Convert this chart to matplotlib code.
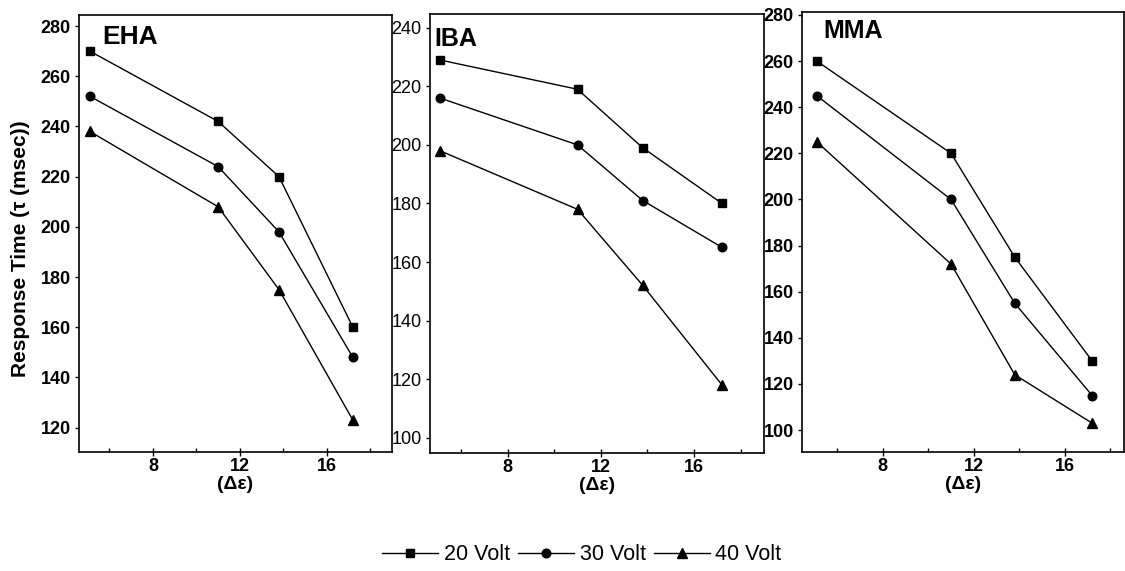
import numpy as np
import matplotlib.pyplot as plt
from matplotlib.ticker import MultipleLocator

plt.rcParams['font.family'] = ['Liberation Sans', 'DejaVu Sans']

# Dados
delta_eps = [5.1, 11.0, 13.8, 17.2]
voltages = ['20 Volt', '30 Volt', '40 Volt']
markers = ['s', 'o', '^']

eha_20 = [270, 242, 220, 160]
eha_30 = [252, 224, 198, 148]
eha_40 = [238, 208, 175, 123]

iba_20 = [229, 219, 199, 180]
iba_30 = [216, 200, 181, 165]
iba_40 = [198, 178, 152, 118]

mma_20 = [260, 220, 175, 130]
mma_30 = [245, 200, 155, 115]
mma_40 = [225, 172, 124, 103]

# (nome, séries, limites y, peso das marcas, tamanho do título, posição do título)
panels = [
    ('EHA', [eha_20, eha_30, eha_40], (110.3, 284.4), 'bold', 19, (0.075, 0.978)),
    ('IBA', [iba_20, iba_30, iba_40], (94.8, 244.7), 'normal', 18, (0.012, 0.97)),
    ('MMA', [mma_20, mma_30, mma_40], (90.5, 281.3), 'bold', 18, (0.065, 0.985)),
]

# posições dos eixos em pixels (esquerda, topo, direita, base)
boxes = [(79, 15, 392, 452), (430, 14, 764, 453), (802, 12, 1124, 452)]
xlims = [(4.6, 19.0), (4.67, 19.0), (4.45, 18.6)]
msizes = [6.4, 6.2, 7.2]

W, H = 1125, 571
fig = plt.figure(figsize=(W / 100, H / 100), dpi=100)

handles = []
for i, (name, series, ylim, wt, tsize, tpos) in enumerate(panels):
    l, t, r, b = boxes[i]
    ax = fig.add_axes([l / W, (H - b) / H, (r - l) / W, (b - t) / H])
    for j, vals in enumerate(series):
        ln, = ax.plot(delta_eps, vals, color='black', lw=1.0, marker=markers[j],
                      markersize=msizes[j], label=voltages[j])
        if i == 0:
            handles.append(ln)
    ax.set_xlim(*xlims[i])
    ax.set_ylim(*ylim)
    ax.xaxis.set_major_locator(MultipleLocator(4))
    ax.xaxis.set_minor_locator(MultipleLocator(2))
    ax.yaxis.set_major_locator(MultipleLocator(20))
    ax.tick_params(axis='x', which='major', direction='inout', length=6, width=1,
                   labelsize=13, pad=1, top=False)
    ax.tick_params(axis='x', which='minor', direction='in', length=3, width=1, top=False)
    ax.tick_params(axis='y', which='major', direction='out', length=3, width=1,
                   labelsize=13, pad=3, right=False)
    for lab in ax.get_xticklabels():
        lab.set_fontweight('bold')
    for lab in ax.get_yticklabels():
        lab.set_fontweight(wt)
    for sp in ax.spines.values():
        sp.set_linewidth(1.2)
    ax.set_xlabel('(Δε)', fontsize=14, fontweight='bold', labelpad=1)
    ax.text(tpos[0], tpos[1], name, transform=ax.transAxes, fontsize=tsize,
            fontweight='bold', ha='left', va='top')
    if i == 0:
        ax.set_ylabel('Response Time (τ (msec))', fontsize=15, fontweight='bold')
        ax.yaxis.set_label_coords(-0.156, 0.465)

fig.legend(handles=handles, labels=voltages, loc='center', bbox_to_anchor=(582 / W, 1 - 555 / H),
           ncol=3, frameon=False, fontsize=15.5, handlelength=2.6, handletextpad=0.27,
           columnspacing=0.36, borderpad=0)

plt.savefig('out.png', dpi=100)
plt.close()
